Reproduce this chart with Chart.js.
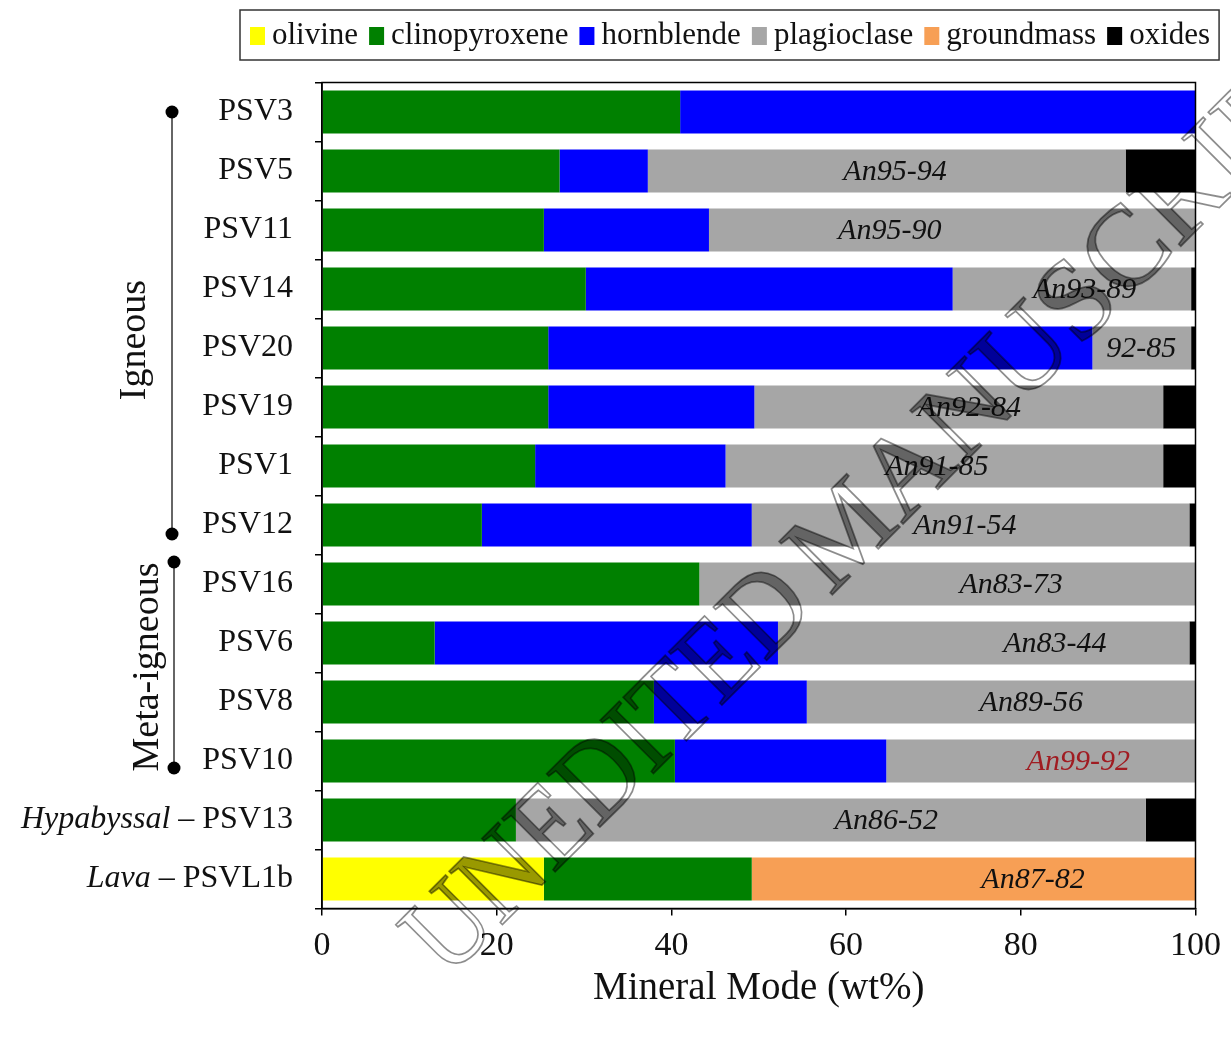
<!DOCTYPE html>
<html>
<head>
<meta charset="utf-8">
<title>Mineral Mode</title>
<script src="https://cdn.jsdelivr.net/npm/chart.js@4.4.1/dist/chart.umd.min.js"></script>
<style>
  html, body { margin: 0; padding: 0; background: #fff; }
  #wrap { width: 1231px; height: 1039px; }
</style>
</head>
<body>
<div id="wrap"><canvas id="modeChart" width="1231" height="1039"></canvas></div>
<script>
const samples = ['PSV3', 'PSV5', 'PSV11', 'PSV14', 'PSV20', 'PSV19', 'PSV1', 'PSV12', 'PSV16', 'PSV6', 'PSV8', 'PSV10', 'PSV13', 'PSVL1b'];
const samplePrefix = { PSV13: 'Hypabyssal', PSVL1b: 'Lava' };

// wt%
const olivine       = [0, 0, 0, 0, 0, 0, 0, 0, 0, 0, 0, 0, 0, 25.4];
const clinopyroxene = [41.0, 27.2, 25.4, 30.2, 25.9, 25.9, 24.4, 18.3, 43.2, 12.9, 38.0, 40.4, 22.2, 23.8];
const hornblende    = [59.0, 10.1, 18.9, 42.0, 62.3, 23.6, 21.8, 30.9, 0, 39.3, 17.5, 24.2, 0, 0];
const plagioclase   = [0, 54.7, 55.7, 27.3, 11.3, 46.8, 50.1, 50.1, 56.8, 47.1, 44.5, 35.4, 72.1, 0];
const groundmass    = [0, 0, 0, 0, 0, 0, 0, 0, 0, 0, 0, 0, 0, 50.8];
const oxides        = [0, 8.0, 0, 0.5, 0.5, 3.7, 3.7, 0.7, 0, 0.7, 0, 0, 5.7, 0];

// plagioclase composition notes, and where (in wt%) they sit on each bar
const anLabels  = ['', 'An95-94', 'An95-90', 'An93-89', '92-85', 'An92-84', 'An91-85', 'An91-54', 'An83-73', 'An83-44', 'An89-56', 'An99-92', 'An86-52', 'An87-82'];
const anLabelAt = [null, 65.6, 65.0, 87.3, 93.8, 74.1, 70.4, 73.6, 78.9, 83.9, 81.2, 86.6, 64.6, 81.4];
const anHighlight = ['An99-92'];

const groups = [
  { name: 'Igneous', from: 'PSV3', to: 'PSV12' },
  { name: 'Meta-igneous', from: 'PSV16', to: 'PSV10' }
];

const SERIF = '"Liberation Serif", "Times New Roman", serif';

const seriesList = [
  { label: 'olivine', data: olivine, color: '#ffff00' },
  { label: 'clinopyroxene', data: clinopyroxene, color: '#008000' },
  { label: 'hornblende', data: hornblende, color: '#0000ff' },
  { label: 'plagioclase', data: plagioclase, color: '#a6a6a6' },
  { label: 'groundmass', data: groundmass, color: '#f79f55' },
  { label: 'oxides', data: oxides, color: '#000000' }
];

const decorPlugin = {
  id: 'decor',
  afterDraw(chart) {
    const { ctx, chartArea: area } = chart;
    const xs = chart.scales.x;
    const ys = chart.scales.y;

    // frame round the plot
    ctx.save();
    ctx.strokeStyle = '#000';
    ctx.lineWidth = 1.5;
    ctx.strokeRect(area.left, area.top, area.right - area.left, area.bottom - area.top);

    // An labels inside the bars
    ctx.font = 'italic 30px ' + SERIF;
    ctx.textAlign = 'center';
    ctx.textBaseline = 'middle';
    anLabels.forEach((txt, i) => {
      if (!txt) return;
      ctx.fillStyle = anHighlight.includes(txt) ? '#a01c22' : '#111';
      ctx.fillText(txt, xs.getPixelForValue(anLabelAt[i]), ys.getPixelForValue(i) + 1);
    });

    // italic prefixes before some sample names
    ctx.textAlign = 'right';
    ctx.fillStyle = '#111';
    const labelRight = area.left - 7 - 22;
    samples.forEach((s, i) => {
      const prefix = samplePrefix[s];
      if (!prefix) return;
      const y = ys.getPixelForValue(i);
      ctx.font = '32px ' + SERIF;
      let x = labelRight - ctx.measureText(s).width;
      ctx.fillText(' \u2013 ', x, y);
      x -= ctx.measureText(' \u2013 ').width;
      ctx.font = 'italic 32px ' + SERIF;
      ctx.fillText(prefix, x, y);
    });

    // group brackets on the left
    const spans = [
      { top: 0, bottom: 9, lineX: 172, textX: 145, textShift: 17 },
      { top: -22, bottom: 7, lineX: 174, textX: 158, textShift: 2 }
    ];
    groups.forEach((g, k) => {
      const sp = spans[k];
      const y0 = ys.getPixelForValue(samples.indexOf(g.from)) + sp.top;
      const y1 = ys.getPixelForValue(samples.indexOf(g.to)) + sp.bottom;
      ctx.strokeStyle = '#666';
      ctx.lineWidth = 2;
      ctx.beginPath();
      ctx.moveTo(sp.lineX, y0);
      ctx.lineTo(sp.lineX, y1);
      ctx.stroke();
      ctx.fillStyle = '#000';
      [y0, y1].forEach(y => {
        ctx.beginPath();
        ctx.arc(sp.lineX, y, 6.5, 0, Math.PI * 2);
        ctx.fill();
      });
      ctx.save();
      ctx.translate(sp.textX, (y0 + y1) / 2 + sp.textShift);
      ctx.rotate(-Math.PI / 2);
      ctx.font = '38px ' + SERIF;
      ctx.textAlign = 'center';
      ctx.textBaseline = 'alphabetic';
      ctx.fillStyle = '#111';
      ctx.fillText(g.name, 0, 0);
      ctx.restore();
    });

    // legend
    ctx.font = '31px ' + SERIF;
    ctx.textAlign = 'left';
    ctx.textBaseline = 'middle';
    let lx = 250;
    const ly = 36;
    chart.data.datasets.forEach(ds => {
      ctx.fillStyle = ds.backgroundColor;
      ctx.fillRect(lx, ly - 9, 15, 18);
      lx += 22;
      ctx.fillStyle = '#111';
      ctx.fillText(ds.label, lx, ly);
      lx += ctx.measureText(ds.label).width + 11;
    });
    ctx.strokeStyle = '#333';
    ctx.lineWidth = 1.5;
    ctx.strokeRect(240, 10, lx - 2 - 240, 50);

    // manuscript watermark
    ctx.translate(830, 597);
    ctx.rotate(-Math.PI / 4);
    ctx.font = '115px ' + SERIF;
    ctx.textBaseline = 'alphabetic';
    const left = 'UNEDITED', right = 'MANUSCRIPT';
    const drawMark = paint => {
      ctx.save();
      ctx.scale(0.9, 1);
      ctx.textAlign = 'right';
      paint(left, -20, 0);
      ctx.restore();
      ctx.textAlign = 'left';
      paint(right, 0, 0);
    };
    ctx.globalCompositeOperation = 'source-atop';
    ctx.fillStyle = 'rgba(0,0,0,0.4)';
    drawMark((t, x, y) => ctx.fillText(t, x, y));
    ctx.globalCompositeOperation = 'source-over';
    ctx.strokeStyle = 'rgba(0,0,0,0.45)';
    ctx.lineWidth = 1.8;
    drawMark((t, x, y) => ctx.strokeText(t, x, y));
    ctx.restore();
  }
};

const ctx = document.getElementById('modeChart').getContext('2d');

new Chart(ctx, {
  type: 'bar',
  data: {
    labels: samples,
    datasets: seriesList.map(s => ({
      label: s.label,
      data: s.data,
      backgroundColor: s.color,
      borderWidth: 0,
      barPercentage: 0.73,
      categoryPercentage: 1
    }))
  },
  options: {
    indexAxis: 'y',
    responsive: false,
    animation: false,
    devicePixelRatio: 1,
    layout: { padding: { top: 82.5, right: 35, left: 0, bottom: 0 } },
    plugins: {
      legend: { display: false },
      tooltip: { enabled: false }
    },
    scales: {
      x: {
        stacked: true,
        min: 0,
        max: 100,
        ticks: {
          stepSize: 20,
          color: '#111',
          padding: 10,
          font: { family: SERIF, size: 34 }
        },
        grid: { drawOnChartArea: false, drawTicks: true, tickLength: 7, color: '#000', lineWidth: 1.5 },
        border: { display: true, color: '#000', width: 1.5 },
        title: {
          display: true,
          text: 'Mineral Mode (wt%)',
          color: '#111',
          font: { family: SERIF, size: 39, lineHeight: 1 },
          padding: { top: 1, bottom: 31 }
        },
        afterFit: scale => { scale.height = 130.5; }
      },
      y: {
        stacked: true,
        ticks: {
          color: '#111',
          padding: 22,
          font: { family: SERIF, size: 32 }
        },
        grid: { offset: true, drawOnChartArea: false, drawTicks: true, tickLength: 7, color: '#000', lineWidth: 1.5 },
        border: { display: true, color: '#000', width: 1.5 },
        afterFit: scale => { scale.width = 322; }
      }
    }
  },
  plugins: [decorPlugin]
});
</script>
</body>
</html>
